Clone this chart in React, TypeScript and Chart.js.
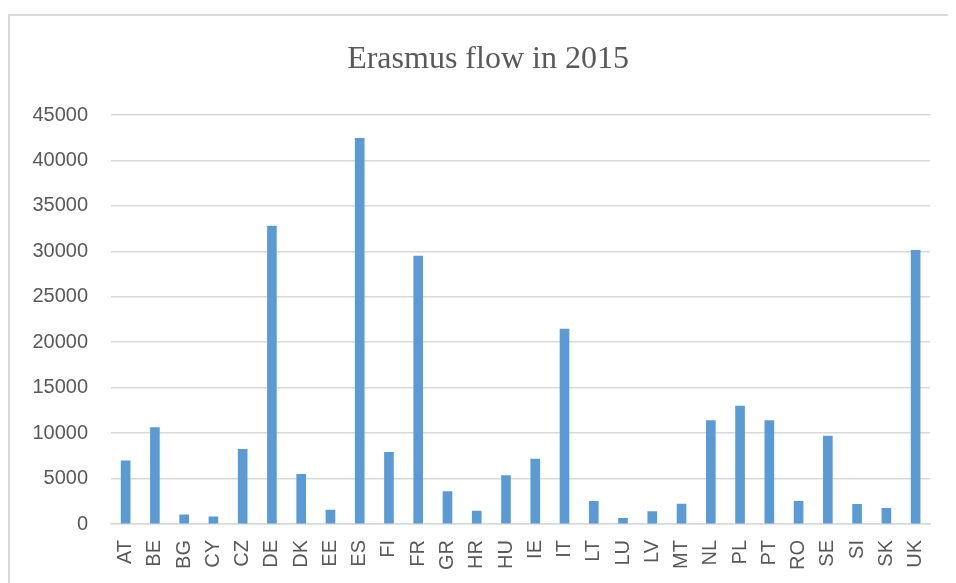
import React, { useEffect, useRef } from "react";
import { Chart, registerables } from "chart.js";

Chart.register(...registerables);

const categories = ["AT","BE","BG","CY","CZ","DE","DK","EE","ES","FI","FR","GR","HR","HU","IE","IT","LT","LU","LV","MT","NL","PL","PT","RO","SE","SI","SK","UK"];
const flowValues = [6950,10600,1020,800,8210,32780,5470,1540,42430,7880,29480,3560,1430,5320,7150,21450,2490,620,1360,2200,11370,12980,11370,2490,9680,2170,1730,30110];
const yTicks = [0,5000,10000,15000,20000,25000,30000,35000,40000,45000];
const chartTitle = "Erasmus flow in 2015";

const framePlugin = {
  id: "frameAndTitle",
  beforeDraw(chart: any) {
    const ctx = chart.ctx;
    ctx.save();
    ctx.fillStyle = "#ffffff";
    ctx.fillRect(0, 0, chart.width, chart.height);
    ctx.strokeStyle = "#d9d9d9";
    ctx.lineWidth = 2;
    ctx.beginPath();
    ctx.moveTo(1, chart.height);
    ctx.lineTo(1, 7);
    ctx.lineTo(chart.width, 7);
    ctx.stroke();
    ctx.fillStyle = "#595959";
    ctx.font = "32px 'Liberation Serif', 'Times New Roman', serif";
    ctx.textAlign = "center";
    ctx.textBaseline = "middle";
    ctx.fillText(chartTitle, 480, 52);
    ctx.restore();
  },
};

export default function App() {
  const ref = useRef<HTMLCanvasElement>(null);
  useEffect(() => {
    if (!ref.current) return;
    const chart = new Chart(ref.current, {
      type: "bar",
      data: {
        labels: categories,
        datasets: [
          {
            label: "Erasmus flow",
            data: flowValues,
            backgroundColor: "#5b9bd5",
            barThickness: 9,
          },
        ],
      },
      options: {
        animation: false,
        responsive: false,
        maintainAspectRatio: false,
        layout: { padding: { left: 0, right: 21, top: 107, bottom: 0 } },
        plugins: {
          legend: { display: false },
          tooltip: { enabled: false },
          title: { display: false },
        },
        scales: {
          x: {
            grid: { display: false, drawTicks: false },
            border: { display: true, color: "#d9d9d9", width: 1.5 },
            ticks: {
              color: "#595959",
              font: { family: "'Liberation Sans', Arial, sans-serif", size: 20 },
              maxRotation: 90,
              minRotation: 90,
              padding: 16,
              autoSkip: false,
            },
            afterFit(scale: any) {
              scale.height = 59;
            },
          },
          y: {
            min: 0,
            max: 45000,
            afterBuildTicks(scale: any) {
              scale.ticks = yTicks.map((v) => ({ value: v }));
            },
            grid: { color: "#d9d9d9", lineWidth: 1.5, drawTicks: false },
            border: { display: false },
            ticks: {
              color: "#595959",
              font: { family: "'Liberation Sans', Arial, sans-serif", size: 20 },
              padding: 23,
              callback: (v: any) => String(v),
            },
            afterFit(scale: any) {
              scale.width = 103;
            },
          },
        },
      },
      plugins: [framePlugin],
    });
    return () => chart.destroy();
  }, []);
  return <canvas ref={ref} width={948} height={575} style={{ display: "block" }} />;
}
